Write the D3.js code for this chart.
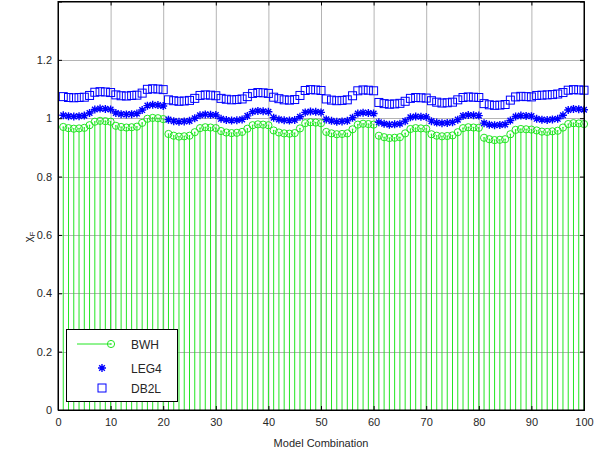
<!DOCTYPE html>
<html><head><meta charset="utf-8">
<script src="https://cdn.jsdelivr.net/npm/d3@7"></script>
<style>body{margin:0;background:#fff}svg{display:block}text{font-family:"Liberation Sans",Arial,sans-serif}</style>
</head><body><svg id="c" width="596" height="450"></svg>
<script>
const xTicks=[0,10,20,30,40,50,60,70,80,90,100];
const yTicks=[0,0.2,0.4,0.6,0.8,1,1.2];
const yTickLabels=["0","0.2","0.4","0.6","0.8","1","1.2"];
const seriesNames=["BWH","LEG4","DB2L"];
const combos=d3.range(1,101);
const bwh=[
0.970,0.966,0.964,0.965,0.967,0.976,0.988,0.991,0.990,0.988,
0.974,0.970,0.968,0.969,0.971,0.984,0.998,1.001,1.000,0.997,
0.946,0.940,0.937,0.938,0.940,0.952,0.966,0.969,0.968,0.966,
0.956,0.951,0.949,0.950,0.953,0.964,0.976,0.979,0.978,0.976,
0.958,0.951,0.948,0.947,0.949,0.965,0.983,0.986,0.985,0.983,
0.953,0.948,0.945,0.946,0.948,0.962,0.978,0.981,0.980,0.978,
0.940,0.935,0.932,0.933,0.935,0.948,0.963,0.966,0.965,0.964,
0.945,0.940,0.938,0.939,0.941,0.952,0.966,0.969,0.968,0.967,
0.933,0.928,0.925,0.926,0.928,0.945,0.960,0.963,0.962,0.961,
0.958,0.954,0.953,0.955,0.957,0.968,0.980,0.983,0.982,0.980];
const leg4=[
1.010,1.007,1.006,1.007,1.009,1.018,1.030,1.033,1.032,1.030,
1.018,1.014,1.013,1.014,1.016,1.028,1.043,1.046,1.045,1.042,
0.995,0.990,0.988,0.989,0.991,1.000,1.010,1.013,1.012,1.011,
0.998,0.994,0.992,0.993,0.996,1.008,1.022,1.025,1.024,1.022,
1.002,0.996,0.993,0.992,0.994,1.005,1.020,1.023,1.022,1.020,
0.996,0.991,0.988,0.989,0.991,1.002,1.016,1.019,1.018,1.016,
0.986,0.981,0.978,0.979,0.981,0.990,1.003,1.006,1.005,1.004,
0.990,0.985,0.983,0.984,0.986,0.995,1.008,1.011,1.010,1.009,
0.983,0.978,0.976,0.977,0.979,0.992,1.006,1.009,1.008,1.007,
0.998,0.995,0.994,0.996,0.998,1.010,1.028,1.032,1.031,1.029];
const db2l=[
1.074,1.071,1.070,1.071,1.072,1.078,1.089,1.091,1.090,1.088,
1.080,1.077,1.076,1.078,1.079,1.086,1.099,1.101,1.100,1.098,
1.063,1.060,1.058,1.059,1.061,1.068,1.078,1.080,1.079,1.077,
1.068,1.065,1.063,1.064,1.066,1.074,1.085,1.088,1.087,1.085,
1.072,1.067,1.063,1.062,1.064,1.078,1.095,1.098,1.097,1.095,
1.066,1.062,1.060,1.061,1.063,1.077,1.094,1.097,1.096,1.094,
1.054,1.050,1.048,1.049,1.051,1.058,1.068,1.071,1.070,1.069,
1.060,1.055,1.052,1.053,1.055,1.063,1.071,1.073,1.072,1.071,
1.050,1.046,1.044,1.045,1.047,1.062,1.073,1.075,1.074,1.073,
1.078,1.079,1.080,1.081,1.083,1.088,1.096,1.098,1.097,1.096];

const svg=d3.select("#c");
const L=58,R=584,T=1.5,B=410;
const x=d3.scaleLinear().domain([0,100]).range([L,R]);
const y=d3.scaleLinear().domain([0,1.4]).range([B,T]);
const green="#22e622", blue="#0000ff", grid="#b4b4b4";

// grid
const g=svg.append("g");
g.selectAll(".gx").data(xTicks.slice(1,-1)).join("line")
 .attr("x1",d=>x(d)+0.5).attr("x2",d=>x(d)+0.5).attr("y1",T).attr("y2",B).attr("stroke",grid);
g.selectAll(".gy").data(yTicks.slice(1)).join("line")
 .attr("y1",d=>Math.round(y(d))+0.5).attr("y2",d=>Math.round(y(d))+0.5).attr("x1",L).attr("x2",R).attr("stroke",grid);

// stems
const s=svg.append("g");
s.selectAll("line").data(combos).join("line")
 .attr("x1",(d)=>x(d)).attr("x2",d=>x(d)).attr("y1",y(0)).attr("y2",(d,i)=>y(bwh[i]))
 .attr("stroke",green).attr("stroke-width",1);
s.selectAll("circle").data(combos).join("circle")
 .attr("cx",d=>x(d)).attr("cy",(d,i)=>y(bwh[i])).attr("r",3.6)
 .attr("fill","none").attr("stroke",green).attr("stroke-width",1);
s.selectAll("circle.dot").data(combos).join("circle").attr("class","dot")
 .attr("cx",d=>x(d)).attr("cy",(d,i)=>y(bwh[i])).attr("r",0.8).attr("fill",green);

// stars
const starPath=(cx,cy,r)=>{const a=r*0.707;return `M${cx-r},${cy}L${cx+r},${cy}M${cx},${cy-r}L${cx},${cy+r}M${cx-a},${cy-a}L${cx+a},${cy+a}M${cx-a},${cy+a}L${cx+a},${cy-a}`;};
svg.append("g").selectAll("path").data(combos).join("path")
 .attr("d",(d,i)=>starPath(x(d),y(leg4[i]),4)).attr("stroke",blue).attr("stroke-width",1.4).attr("fill","none");

// squares
svg.append("g").selectAll("rect").data(combos).join("rect")
 .attr("x",(d)=>x(d)-4).attr("y",(d,i)=>y(db2l[i])-4).attr("width",8).attr("height",8)
 .attr("fill","none").attr("stroke",blue).attr("stroke-width",1);

// axes
const ax=svg.append("g");
ax.append("g").attr("transform",`translate(0,${B})`)
 .call(d3.axisBottom(x).tickValues(xTicks).tickSize(-4).tickPadding(8).tickFormat(d3.format("d")));
ax.append("g").attr("transform",`translate(0,${T})`)
 .call(d3.axisTop(x).tickValues(xTicks).tickSize(-4).tickFormat(""));
ax.append("g").attr("transform",`translate(${L},0)`)
 .call(d3.axisLeft(y).tickValues(yTicks).tickSize(-4).tickPadding(6).tickFormat((d,i)=>yTickLabels[i]));
ax.append("g").attr("transform",`translate(${R},0)`)
 .call(d3.axisRight(y).tickValues(yTicks).tickSize(-4).tickFormat(""));
ax.selectAll(".domain").attr("stroke","#000");
ax.selectAll(".tick line").attr("stroke","#000");
ax.selectAll(".tick text").attr("font-size",11).attr("fill","#262626").attr("font-family","Liberation Sans, Arial, sans-serif");
svg.append("rect").attr("x",L).attr("y",T).attr("width",R-L).attr("height",B-T).attr("fill","none").attr("stroke","#000");

svg.append("text").attr("x",(L+R)/2).attr("y",447).attr("text-anchor","middle").attr("font-size",11).attr("fill","#262626").text("Model Combination");
const yl=svg.append("text").attr("transform","translate(32,237) rotate(-90)").attr("text-anchor","middle").attr("font-size",11).attr("fill","#262626");
yl.append("tspan").text("χ");
yl.append("tspan").attr("font-size",8).attr("dy",2.5).text("F");

// legend
const lg=svg.append("g");
lg.append("rect").attr("x",66.5).attr("y",329.5).attr("width",111).attr("height",72).attr("fill","#fff").attr("stroke","#000");
const ly=[344,368,388];
lg.append("line").attr("x1",77).attr("x2",111).attr("y1",ly[0]).attr("y2",ly[0]).attr("stroke",green);
lg.append("circle").attr("cx",111).attr("cy",ly[0]).attr("r",3.6).attr("fill","none").attr("stroke",green);
lg.append("circle").attr("cx",111).attr("cy",ly[0]).attr("r",0.8).attr("fill",green);
lg.append("path").attr("d",starPath(102,ly[1],4)).attr("stroke",blue).attr("stroke-width",1.4);
lg.append("rect").attr("x",98).attr("y",ly[2]-4).attr("width",8).attr("height",8).attr("fill","none").attr("stroke",blue);
lg.selectAll("text").data(seriesNames).join("text").attr("x",131).attr("y",(d,i)=>ly[i]+4.5)
 .attr("font-size",12).attr("fill","#262626").text(d=>d);
</script></body></html>
